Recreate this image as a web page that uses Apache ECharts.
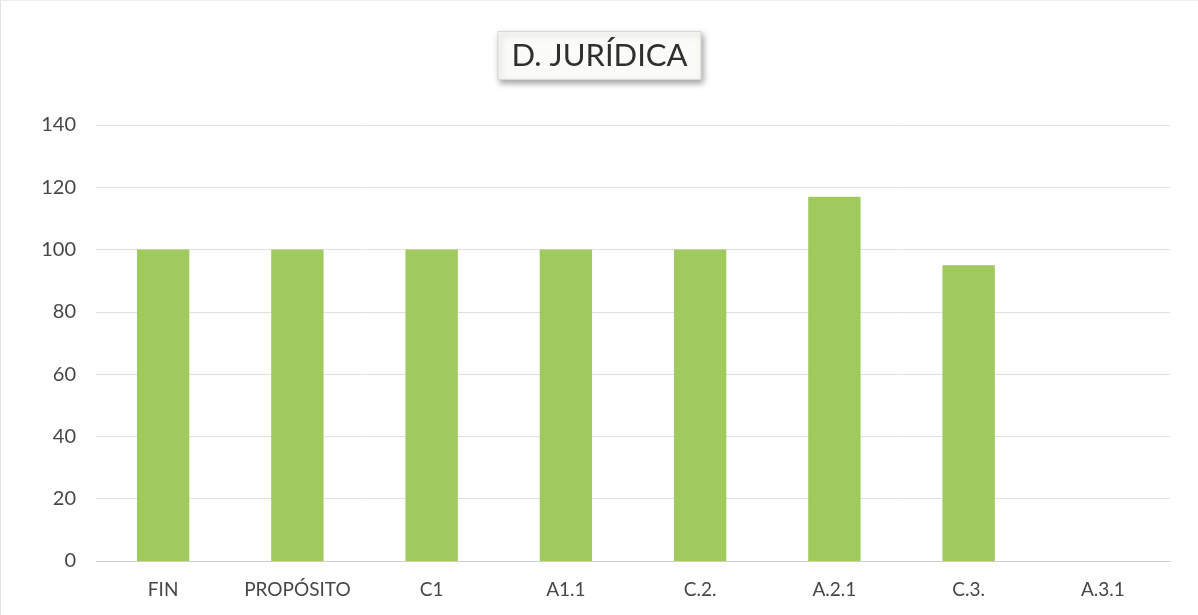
<!DOCTYPE html>
<html>
<head>
<meta charset="utf-8">
<script src="https://cdn.jsdelivr.net/npm/echarts@6/dist/echarts.min.js"></script>
<style>
  html, body { margin: 0; padding: 0; background: #fff; }
  #main { width: 1198px; height: 615px; box-sizing: border-box; border-left: 1px solid #e4e4e4; border-top: 1px solid #ececec; }
</style>
</head>
<body>
<div id="main"></div>
<script>
// categorias y valores
var categorias = ['FIN', 'PROPÓSITO', 'C1', 'A1.1', 'C.2.', 'A.2.1', 'C.3.', 'A.3.1'];
var valores = [100, 100, 100, 100, 100, 117, 95, 0];
var ticksY = [0, 20, 40, 60, 80, 100, 120, 140];

var myChart = echarts.init(document.getElementById('main'));
myChart.setOption({
    backgroundColor: '#fff',
    title: {
        text: 'D. JURÍDICA',
        left: 'center',
        top: 30,
        padding: [9, 14, 9, 14],
        backgroundColor: '#fbfcf8',
        borderColor: '#d8d8d8',
        borderWidth: 1,
        shadowBlur: 6,
        shadowColor: 'rgba(0,0,0,0.35)',
        shadowOffsetX: 2,
        shadowOffsetY: 3,
        textStyle: {
            fontFamily: 'Lato',
            fontSize: 31,
            fontWeight: 'normal',
            color: '#2f2f2f'
        }
    },
    grid: {
        left: 95,
        right: 28,
        top: 124,
        bottom: 54,
        containLabel: false
    },
    xAxis: {
        type: 'category',
        data: categorias,
        axisTick: { show: false },
        axisLine: { lineStyle: { color: '#cfcfcf', width: 1 } },
        axisLabel: {
            interval: 0,
            color: '#474747',
            fontFamily: 'Lato',
            fontSize: 19,
            margin: 19
        }
    },
    yAxis: {
        type: 'value',
        min: ticksY[0],
        max: ticksY[ticksY.length - 1],
        interval: 20,
        axisLine: { show: false },
        axisTick: { show: false },
        splitLine: { lineStyle: { color: '#e0e0e0', width: 1 } },
        axisLabel: {
            color: '#474747',
            fontFamily: 'Lato',
            fontSize: 20,
            margin: 20
        }
    },
    series: [
        {
            name: 'D. JURÍDICA',
            type: 'bar',
            data: valores,
            barWidth: '39%',
            itemStyle: { color: '#a0ca5e' }
        }
    ]
});
</script>
</body>
</html>
